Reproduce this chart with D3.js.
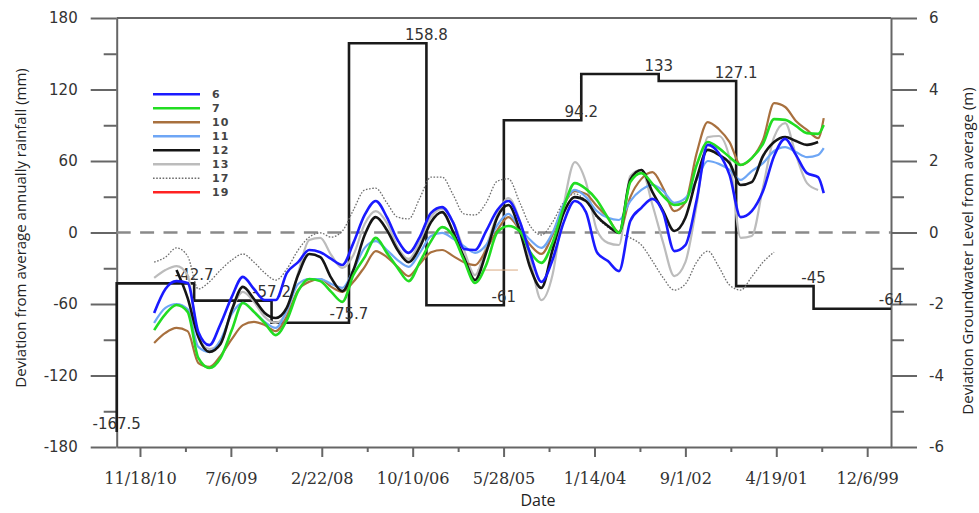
<!DOCTYPE html>
<html><head><meta charset="utf-8">
<script src="https://cdn.jsdelivr.net/npm/d3@7"></script>
<style>html,body{margin:0;padding:0;background:#fff;} svg{display:block;}</style>
</head><body>
<svg id="chart" width="979" height="513"></svg>
<script>
// ---------- DATA ----------
const rainfallValues = [-167.5, -42.7, -57.2, -75.7, 158.8, -61, 94.2, 133, 127.1, -45, -64];
const rainfallLabels = ["-167.5", "-42.7", "-57.2", "-75.7", "158.8", "-61", "94.2", "133", "127.1", "-45", "-64"];
const xTickLabels = ["11/18/10", "7/6/09", "2/22/08", "10/10/06", "5/28/05", "1/14/04", "9/1/02", "4/19/01", "12/6/99"];
const leftTicks = [180, 120, 60, 0, -60, -120, -180];
const leftMinor = [150, 90, 30, -30, -90, -150];
const rightTicks = [6, 4, 2, 0, -2, -4, -6];
const rightMinor = [5, 3, 1, -1, -3, -5];

const sampleDates = ["2010-09","2010-07","2010-05","2010-03","2010-01",
 "2009-11","2009-09","2009-07","2009-05","2009-03","2009-01",
 "2008-11","2008-09","2008-07","2008-05","2008-03","2008-01",
 "2007-11","2007-09","2007-07","2007-05","2007-03","2007-01",
 "2006-11","2006-09","2006-07","2006-05","2006-03","2006-01",
 "2005-11","2005-09","2005-07","2005-05","2005-03","2005-01",
 "2004-11","2004-09","2004-07","2004-05","2004-03","2004-01",
 "2003-11","2003-09","2003-07","2003-05","2003-03","2003-01",
 "2002-11","2002-09","2002-07","2002-05","2002-03","2002-01",
 "2001-11","2001-09","2001-07","2001-05","2001-03","2001-01",
 "2000-11","2000-09","2000-08"];

const well6 = [-2.25,-1.58,-1.36,-1.41,-2.78,
 -3.15,-2.56,-1.80,-1.24,-1.58,-1.89,
 -1.89,-1.13,-0.83,-0.49,-0.55,-0.74,
 -0.91,-0.29,0.49,0.88,0.43,-0.21,
 -0.57,-0.13,0.55,0.71,0.27,-0.46,
 -0.49,0.04,0.63,0.88,0.32,-0.60,
 -1.38,-0.77,0.29,0.88,0.57,-0.55,
 -0.80,-1.08,0.32,0.69,0.94,0.55,
 -0.52,-0.35,0.91,2.45,2.22,1.61,
 0.43,0.60,1.16,2.14,2.62,2.17,
 1.66,1.55,1.10];
const well7 = [-2.73,-2.28,-2.03,-2.22,-3.51,
 -3.79,-3.51,-2.73,-1.97,-2.22,-2.53,
 -2.87,-2.45,-1.64,-1.30,-1.36,-1.66,
 -1.94,-1.19,-0.69,-0.15,-0.57,-0.99,
 -1.36,-0.83,-0.24,0.15,-0.10,-0.77,
 -1.41,-0.91,0.01,0.18,0.04,-0.55,
 -0.85,-0.29,0.71,1.38,1.22,0.91,
 0.41,-0.01,1.41,1.66,1.36,1.02,
 0.77,0.85,1.89,2.53,2.36,2.11,
 1.89,2.08,2.48,3.17,3.15,2.98,
 2.78,2.76,3.01];
const well10 = [-3.09,-2.81,-2.67,-2.76,-3.65,
 -3.76,-3.45,-2.98,-2.59,-2.50,-2.59,
 -2.76,-2.34,-1.61,-1.38,-1.30,-1.52,
 -1.66,-1.38,-0.96,-0.52,-0.69,-0.96,
 -1.22,-0.88,-0.55,-0.49,-0.66,-0.83,
 -0.91,-0.49,0.07,0.43,0.07,-0.35,
 -0.60,-0.07,0.77,1.16,1.08,0.74,
 0.41,0.01,0.99,1.50,1.69,1.24,
 0.60,0.85,2.22,3.09,2.89,2.53,
 1.89,2.08,2.59,3.62,3.51,3.12,
 2.87,2.64,3.20];
const well11 = [-2.53,-2.11,-2.00,-2.14,-3.20,
 -3.34,-3.01,-2.28,-1.97,-2.22,-2.50,
 -2.67,-2.17,-1.44,-1.30,-1.30,-1.44,
 -1.55,-1.05,-0.43,-0.24,-0.49,-0.77,
 -0.96,-0.57,-0.10,-0.01,-0.18,-0.38,
 -0.57,-0.35,0.21,0.52,0.13,-0.21,
 -0.43,-0.01,0.80,1.19,0.99,0.60,
 0.41,0.35,0.88,1.19,1.33,1.16,
 0.83,0.96,1.47,2.00,1.92,1.75,
 1.47,1.72,1.94,2.28,2.39,2.25,
 2.11,2.17,2.36];
const well12 = [null,null,-1.05,-1.83,-2.92,
 -3.34,-3.12,-2.17,-1.52,-1.86,-2.25,
 -2.39,-2.10,-1.19,-0.60,-0.69,-1.27,
 -1.64,-1.05,-0.07,0.43,0.07,-0.49,
 -0.83,-0.41,0.29,0.57,0.01,-0.69,
 -1.33,-0.57,0.43,0.77,0.07,-0.99,
 -1.55,-0.49,0.55,0.99,0.88,0.46,
 0.18,-0.01,1.48,1.75,1.13,0.60,
 0.04,0.41,1.52,2.31,2.17,1.94,
 1.33,1.41,2.14,2.53,2.67,2.56,
 2.45,2.53,null];
const well13 = [-1.27,-1.05,-0.94,-1.19,-2.92,
 -3.26,-3.09,-2.17,-1.66,-1.94,-2.36,
 -2.53,-2.22,-1.13,-0.21,-0.15,-0.63,
 -0.99,-0.63,0.24,0.60,0.27,-0.41,
 -0.74,-0.27,0.43,0.66,0.29,-0.49,
 -1.19,-0.41,0.49,0.96,0.35,-0.77,
 -1.89,-1.19,0.77,1.97,1.41,0.07,
 -0.29,-0.35,1.58,1.75,0.77,-0.29,
 -1.22,-0.83,0.77,2.67,2.70,2.08,
 -0.15,-0.10,1.27,2.67,3.06,2.17,
 1.38,1.19,null];
const well17 = [-0.83,-0.69,-0.43,-0.66,-1.58,
 -1.38,-1.05,-0.77,-0.60,-0.83,-1.13,
 -1.33,-1.02,-0.49,-0.13,-0.01,-0.13,
 0.04,0.63,1.19,1.24,0.83,0.43,
 0.38,0.96,1.55,1.55,1.05,0.52,
 0.49,0.83,1.44,1.50,0.85,0.18,
 -0.07,0.29,0.85,1.08,0.88,0.43,
 0.15,-0.01,-0.15,-0.35,-0.80,-1.27,
 -1.61,-1.44,-0.83,-0.52,-0.96,-1.47,
 -1.61,-1.24,-0.83,-0.55,null,null,
 null,null,null];
const well19 = sampleDates.map(() => null);
const well10FlatDates = ["2005-10-21", "2005-03-10"];
const well10Flat = [-1.05, -1.05];

const seriesNames = ["6", "7", "10", "11", "12", "13", "17", "19"];
const seriesData = [well6, well7, well10, well11, well12, well13, well17, well19];

// ---------- STYLE / LAYOUT ----------
const styles = {
  "6":  {color: "#1a1aff", width: 2.6, dash: null},
  "7":  {color: "#22dd22", width: 2.6, dash: null},
  "10": {color: "#a8703e", width: 2.2, dash: null},
  "11": {color: "#6ea6f5", width: 2.2, dash: null},
  "12": {color: "#151515", width: 2.6, dash: null},
  "13": {color: "#bcbcbc", width: 2.2, dash: null},
  "17": {color: "#6d6d6d", width: 1.3, dash: "1.6,1.6"},
  "19": {color: "#ff2222", width: 2.4, dash: null}
};
const drawOrder = ["17", "13", "10", "11", "12", "7", "6", "19"];

const M = {left: 116.7, right: 891, top: 18, bottom: 447};
const axisColor = "#666";
const svg = d3.select("#chart");

const parseTick = d3.utcParse("%m/%d/%y");
const parseMonth = d3.utcParse("%Y-%m");
const parseDay = d3.utcParse("%Y-%m-%d");
const dates = sampleDates.map(parseMonth);
const tickDates = xTickLabels.map(parseTick);

const x = d3.scaleUtc().domain([new Date(Date.UTC(2011, 2, 26)), new Date(Date.UTC(1999, 6, 28))]).range([M.left, M.right]);
const yL = d3.scaleLinear().domain([-180, 180]).range([M.bottom, M.top]);
const yR = d3.scaleLinear().domain([-6, 6]).range([M.bottom, M.top]);
const xStep = d3.scaleLinear().domain([0, rainfallValues.length - 1]).range([M.left, M.right]);

// ---------- AXES ----------
function styleAxis(g, fontFamily, fontSize) {
  g.selectAll("path.domain").attr("stroke", axisColor).attr("stroke-width", 2);
  g.selectAll(".tick line").attr("stroke", axisColor).attr("stroke-width", 2);
  g.selectAll(".tick text").attr("fill", "#333").style("font-family", fontFamily).style("font-size", fontSize + "px");
}
// left
const gL = svg.append("g").attr("transform", `translate(${M.left},0)`)
  .call(d3.axisLeft(yL).tickValues(leftTicks).tickSize(26).tickSizeOuter(0).tickPadding(13));
styleAxis(gL, "DejaVu Sans", 15);
gL.selectAll(".tick text").text(d => String(d));
const gLm = svg.append("g").attr("transform", `translate(${M.left},0)`)
  .call(d3.axisLeft(yL).tickValues(leftMinor).tickSize(13).tickSizeOuter(0).tickFormat(""));
styleAxis(gLm, "DejaVu Sans", 15);
gLm.select("path.domain").remove();
// right
const gR = svg.append("g").attr("transform", `translate(${M.right},0)`)
  .call(d3.axisRight(yR).tickValues(rightTicks).tickSize(26).tickSizeOuter(0).tickPadding(12));
styleAxis(gR, "DejaVu Sans", 15);
gR.selectAll(".tick text").text(d => String(d));
const gRm = svg.append("g").attr("transform", `translate(${M.right},0)`)
  .call(d3.axisRight(yR).tickValues(rightMinor).tickSize(13).tickSizeOuter(0).tickFormat(""));
styleAxis(gRm, "DejaVu Sans", 15);
gRm.select("path.domain").remove();
// bottom
const gB = svg.append("g").attr("transform", `translate(0,${M.bottom})`)
  .call(d3.axisBottom(x).tickValues(tickDates).tickSize(10).tickSizeOuter(0).tickPadding(15.5)
    .tickFormat((d, i) => xTickLabels[i]));
styleAxis(gB, "DejaVu Serif", 16.2);
const minorDates = tickDates.slice(1).map((d, i) => new Date((d.getTime() + tickDates[i].getTime()) / 2));
const gBm = svg.append("g").attr("transform", `translate(0,${M.bottom})`)
  .call(d3.axisBottom(x).tickValues(minorDates).tickSize(5).tickSizeOuter(0).tickFormat(""));
styleAxis(gBm, "DejaVu Serif", 16);
gBm.select("path.domain").remove();
// top frame
svg.append("line").attr("x1", M.left).attr("x2", M.right).attr("y1", M.top).attr("y2", M.top)
  .attr("stroke", axisColor).attr("stroke-width", 2);

// zero line
svg.append("line").attr("x1", M.left).attr("x2", M.right).attr("y1", yR(0)).attr("y2", yR(0))
  .attr("stroke", "#8a8a8a").attr("stroke-width", 2.5).attr("stroke-dasharray", "14,9.4");

// ---------- RAINFALL STEP ----------
const stepLine = d3.line().x((d, i) => xStep(i)).y(d => yL(d)).curve(d3.curveStepBefore);
svg.append("path").attr("d", stepLine(rainfallValues)).attr("fill", "none")
  .attr("stroke", "#1a1a1a").attr("stroke-width", 2.6);
svg.append("g").selectAll("text").data(rainfallValues).join("text")
  .attr("x", (d, i) => xStep(i)).attr("y", d => yL(d) - 3.5)
  .attr("text-anchor", "middle").attr("fill", "#333")
  .style("font-family", "DejaVu Sans").style("font-size", "15px")
  .text((d, i) => rainfallLabels[i]);

// ---------- GROUNDWATER SERIES ----------
const seriesLine = d3.line().defined(d => d[1] != null).x(d => x(d[0])).y(d => yR(d[1])).curve(d3.curveMonotoneX);
const gS = svg.append("g");
gS.append("path")
  .attr("d", seriesLine(well10FlatDates.map((d, i) => [parseDay(d), well10Flat[i]])))
  .attr("fill", "none").attr("stroke", "#d9aa80").attr("stroke-width", 1);
drawOrder.forEach(name => {
  const vals = seriesData[seriesNames.indexOf(name)];
  const st = styles[name];
  gS.append("path")
    .attr("d", seriesLine(vals.map((v, i) => [dates[i], v])))
    .attr("fill", "none").attr("stroke", st.color).attr("stroke-width", st.width)
    .attr("stroke-linejoin", "round")
    .attr("stroke-dasharray", st.dash);
});

// ---------- LEGEND ----------
const leg = svg.append("g");
seriesNames.forEach((name, i) => {
  const st = styles[name];
  const yy = 94.3 + i * 14;
  leg.append("line").attr("x1", 153).attr("x2", 200).attr("y1", yy).attr("y2", yy)
    .attr("stroke", st.color).attr("stroke-width", name === "17" ? 1.6 : 2.6)
    .attr("stroke-dasharray", st.dash);
  leg.append("text").attr("x", 212).attr("y", yy + 3.8).text(name)
    .attr("fill", "#444").style("font-family", "DejaVu Sans").style("font-weight", "bold")
    .style("font-size", "11px").style("letter-spacing", "1.2px");
});

// ---------- TITLES ----------
svg.append("text").attr("transform", "translate(25.5,228) rotate(-90)")
  .attr("text-anchor", "middle").attr("fill", "#222")
  .style("font-family", "Open Sans").style("font-size", "15px")
  .text("Deviation from average annually rainfall (mm)");
svg.append("text").attr("transform", "translate(972.5,251) rotate(-90)")
  .attr("text-anchor", "middle").attr("fill", "#222")
  .style("font-family", "Open Sans").style("font-size", "15px")
  .text("Deviation Groundwater Level from average (m)");
svg.append("text").attr("x", 538).attr("y", 506).attr("text-anchor", "middle").attr("fill", "#222")
  .style("font-family", "Open Sans").style("font-size", "16px").text("Date");
</script>
</body></html>
